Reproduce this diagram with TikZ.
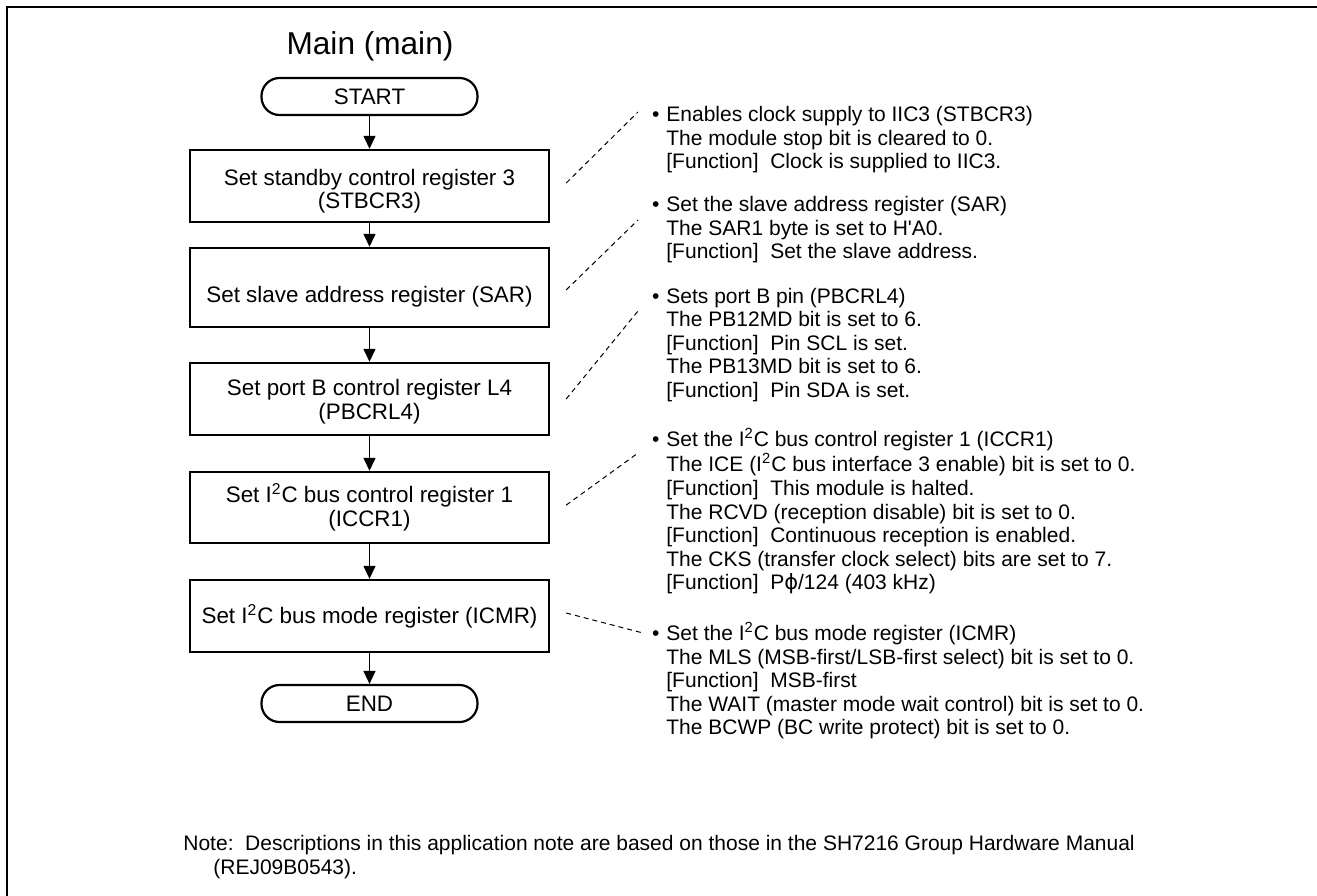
\documentclass[tikz,border=0pt]{standalone}
\usepackage{fontspec}
\setmainfont{Liberation Sans}
\newfontfamily\dvs{DejaVu Sans}
\usetikzlibrary{arrows.meta}
\newcommand{\isq}{I\textsuperscript{2}C}
\newcommand{\bul}{\llap{\textbullet\hspace{3.5pt}}}
\newcommand{\fn}{[Function]\ \ }
\newcommand{\dn}[1]{\rule{0pt}{#1}}
\begin{document}
\begin{tikzpicture}[x=0.5pt,y=-0.5pt,
  proc/.style={draw, line width=1.2pt, minimum width=179.5pt, align=center, inner sep=0pt,
    font=\fontsize{11.2}{11.7}\selectfont},
  term/.style={draw, line width=1.1pt, rounded corners=9pt, minimum width=108pt,
    minimum height=18.5pt, inner sep=0pt, font=\fontsize{11.2}{11.7}\selectfont},
  flow/.style={line width=0.7pt, -{Triangle[length=6.5pt,width=6pt]}},
  lead/.style={line width=0.5pt, dash pattern=on 2.5pt off 2pt},
  annot/.style={anchor=base west, inner sep=0pt, font=\fontsize{10.5}{11.8}\selectfont},
]
\useasboundingbox (0,0) rectangle (1317,895);
\draw[line width=1pt] (7,896) -- (7,6.5) -- (1318,6.5);

\node[anchor=base, inner sep=0pt, font=\fontsize{15.8}{18}\selectfont] (title) at (370,54) {Main (main)};

\node[term] (start) at (369.5,96.5) {START};
\node[proc, minimum height=36pt] (b1) at (369.5,186) {\dn{13.5pt}Set standby control register 3\\(STBCR3)};
\node[proc, minimum height=39.5pt] (b2) at (369.5,287.5) {\dn{17pt}Set slave address register (SAR)};
\node[proc, minimum height=36pt] (b3) at (369.5,399) {\dn{11pt}Set port B control register L4\\(PBCRL4)};
\node[proc, minimum height=35.5pt] (b4) at (369.5,507.5) {Set \isq{} bus control register 1\\(ICCR1)};
\node[proc, minimum height=36pt] (b5) at (369.5,616) {Set \isq{} bus mode register (ICMR)};
\node[term] (end) at (369.5,703.5) {END};

\draw[flow] (start) -- (b1);
\draw[flow] (b1) -- (b2);
\draw[flow] (b2) -- (b3);
\draw[flow] (b3) -- (b4);
\draw[flow] (b4) -- (b5);
\draw[flow] (b5) -- (end);

\node[annot] (n1) at (666,121.5) {\begin{tabular}[t]{@{}l@{}}
\bul Enables clock supply to IIC3 (STBCR3)\\
The module stop bit is cleared to 0.\\
\fn Clock is supplied to IIC3.
\end{tabular}};
\node[annot] (n2) at (666,211.5) {\begin{tabular}[t]{@{}l@{}}
\bul Set the slave address register (SAR)\\
The SAR1 byte is set to H\textquotesingle A0.\\
\fn Set the slave address.
\end{tabular}};
\node[annot] (n3) at (666,303) {\begin{tabular}[t]{@{}l@{}}
\bul Sets port B pin (PBCRL4)\\
The PB12MD bit is set to 6.\\
\fn Pin SCL is set.\\
The PB13MD bit is set to 6.\\
\fn Pin SDA is set.
\end{tabular}};
\node[annot] (n4) at (666,446.5) {\begin{tabular}[t]{@{}l@{}}
\bul Set the \isq{} bus control register 1 (ICCR1)\\
The ICE (\isq{} bus interface 3 enable) bit is set to 0.\\
\fn This module is halted.\\
The RCVD (reception disable) bit is set to 0.\\
\fn Continuous reception is enabled.\\
The CKS (transfer clock select) bits are set to 7.\\
\fn P{\dvs ϕ}/124 (403 kHz)
\end{tabular}};
\node[annot] (n5) at (666,640.5) {\begin{tabular}[t]{@{}l@{}}
\bul Set the \isq{} bus mode register (ICMR)\\
The MLS (MSB-first/LSB-first select) bit is set to 0.\\
\fn MSB-first\\
The WAIT (master mode wait control) bit is set to 0.\\
The BCWP (BC write protect) bit is set to 0.
\end{tabular}};

\coordinate (e1) at (638,112);
\coordinate (e2) at (638,220);
\coordinate (e3) at (638,311);
\coordinate (e4) at (638,453);
\coordinate (e5) at (643,633);
\draw[lead] ([xshift=8pt,yshift=1.5pt]b1.east) -- (e1);
\draw[lead] ([xshift=8pt,yshift=-1.2pt]b2.east) -- (e2);
\draw[lead] ([xshift=8pt]b3.east) -- (e3);
\draw[lead] ([xshift=8pt,yshift=1.2pt]b4.east) -- (e4);
\draw[lead] ([xshift=8pt,yshift=1.5pt]b5.east) -- (e5);

\node[anchor=base west, inner sep=0pt, font=\fontsize{10.5}{11.8}\selectfont] (note) at (183,850.5)
 {\begin{tabular}[t]{@{}l@{}}
 Note:\ \ Descriptions in this application note are based on those in the SH7216 Group Hardware Manual\\
 \hspace{15pt}(REJ09B0543).
 \end{tabular}};
\end{tikzpicture}
\end{document}
